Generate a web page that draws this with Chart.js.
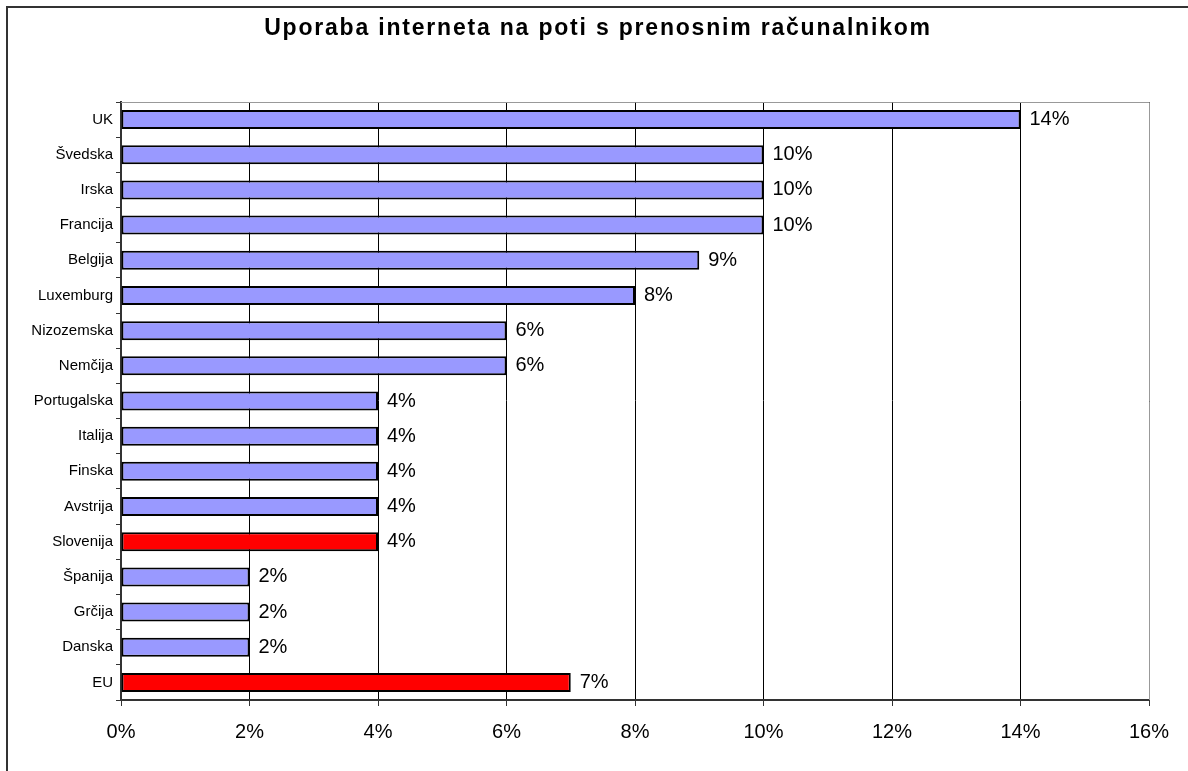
<!DOCTYPE html>
<html>
<head>
<meta charset="utf-8">
<script src="https://cdn.jsdelivr.net/npm/chart.js@4"></script>
<style>
  html, body { margin: 0; padding: 0; background: #fff; }
  #wrap { width: 1188px; height: 771px; }
</style>
</head>
<body>
<div id="wrap"><canvas id="chart" width="1188" height="771"></canvas></div>
<script>
const chartTitle = "Uporaba interneta na poti s prenosnim računalnikom";
const countries = ["UK", "Švedska", "Irska", "Francija", "Belgija", "Luxemburg", "Nizozemska", "Nemčija",
  "Portugalska", "Italija", "Finska", "Avstrija", "Slovenija", "Španija", "Grčija", "Danska", "EU"];
const shares = [14, 10, 10, 10, 9, 8, 6, 6, 4, 4, 4, 4, 4, 2, 2, 2, 7];
const highlighted = ["Slovenija", "EU"];
const xTicks = [0, 2, 4, 6, 8, 10, 12, 14, 16];

const font = "Arial, 'Liberation Sans', sans-serif";

// outer frame (left + top edge only, the rest runs off the picture) and the title
const framePlugin = {
  id: "frame",
  beforeDraw(chart) {
    const ctx = chart.ctx;
    ctx.save();
    ctx.strokeStyle = "#333";
    ctx.lineWidth = 2;
    ctx.beginPath();
    ctx.moveTo(7, chart.height + 2);
    ctx.lineTo(7, 7);
    ctx.lineTo(chart.width + 2, 7);
    ctx.stroke();

    ctx.font = "bold 23px " + font;
    ctx.letterSpacing = "1.8px";
    ctx.fillStyle = "#000";
    ctx.textAlign = "center";
    ctx.textBaseline = "middle";
    ctx.fillText(chartTitle, 598, 29);
    ctx.restore();
  },
  afterDatasetsDraw(chart) {
    // gray top / right plot border
    const { left, right, top, bottom } = chart.chartArea;
    const ctx = chart.ctx;
    ctx.save();
    ctx.strokeStyle = "#999";
    ctx.lineWidth = 1;
    ctx.beginPath();
    ctx.moveTo(left, top + 0.5);
    ctx.lineTo(right + 0.5, top + 0.5);
    ctx.lineTo(right + 0.5, bottom);
    ctx.stroke();
    ctx.restore();
  }
};

const valueLabels = {
  id: "valueLabels",
  afterDatasetsDraw(chart) {
    const ctx = chart.ctx;
    const meta = chart.getDatasetMeta(0);
    ctx.save();
    ctx.font = "20px " + font;
    ctx.fillStyle = "#000";
    ctx.textAlign = "left";
    ctx.textBaseline = "middle";
    meta.data.forEach((bar, i) => {
      ctx.fillText(shares[i] + "%", bar.x + 9, bar.y);
    });
    ctx.restore();
  }
};

new Chart(document.getElementById("chart"), {
  type: "bar",
  data: {
    labels: countries,
    datasets: [{
      data: shares,
      backgroundColor: countries.map(c => highlighted.includes(c) ? "#FF0000" : "#9999FF"),
      borderColor: "#000",
      borderWidth: 2,
      borderSkipped: false,
      categoryPercentage: 1,
      barPercentage: 0.54
    }]
  },
  options: {
    indexAxis: "y",
    responsive: false,
    animation: false,
    layout: { padding: { left: 0, right: 39, top: 102, bottom: 0 } },
    plugins: {
      legend: { display: false },
      tooltip: { enabled: false },
      title: { display: false }
    },
    scales: {
      x: {
        min: 0,
        max: 16,
        afterBuildTicks: scale => { scale.ticks = xTicks.map(v => ({ value: v })); },
        afterFit: scale => { scale.height = 71; },
        border: { color: "#333", width: 2 },
        grid: { color: "#000", lineWidth: 1, tickLength: 6, tickColor: "#333" },
        ticks: {
          color: "#000",
          padding: 14,
          font: { family: font, size: 20 },
          callback: v => v + "%"
        }
      },
      y: {
        afterFit: scale => { scale.width = 121; },
        border: { color: "#333", width: 2 },
        grid: { offset: true, drawOnChartArea: false, tickLength: 5, tickColor: "#333" },
        ticks: {
          color: "#000",
          padding: 3,
          font: { family: font, size: 15 }
        }
      }
    }
  },
  plugins: [framePlugin, valueLabels]
});
</script>
</body>
</html>
